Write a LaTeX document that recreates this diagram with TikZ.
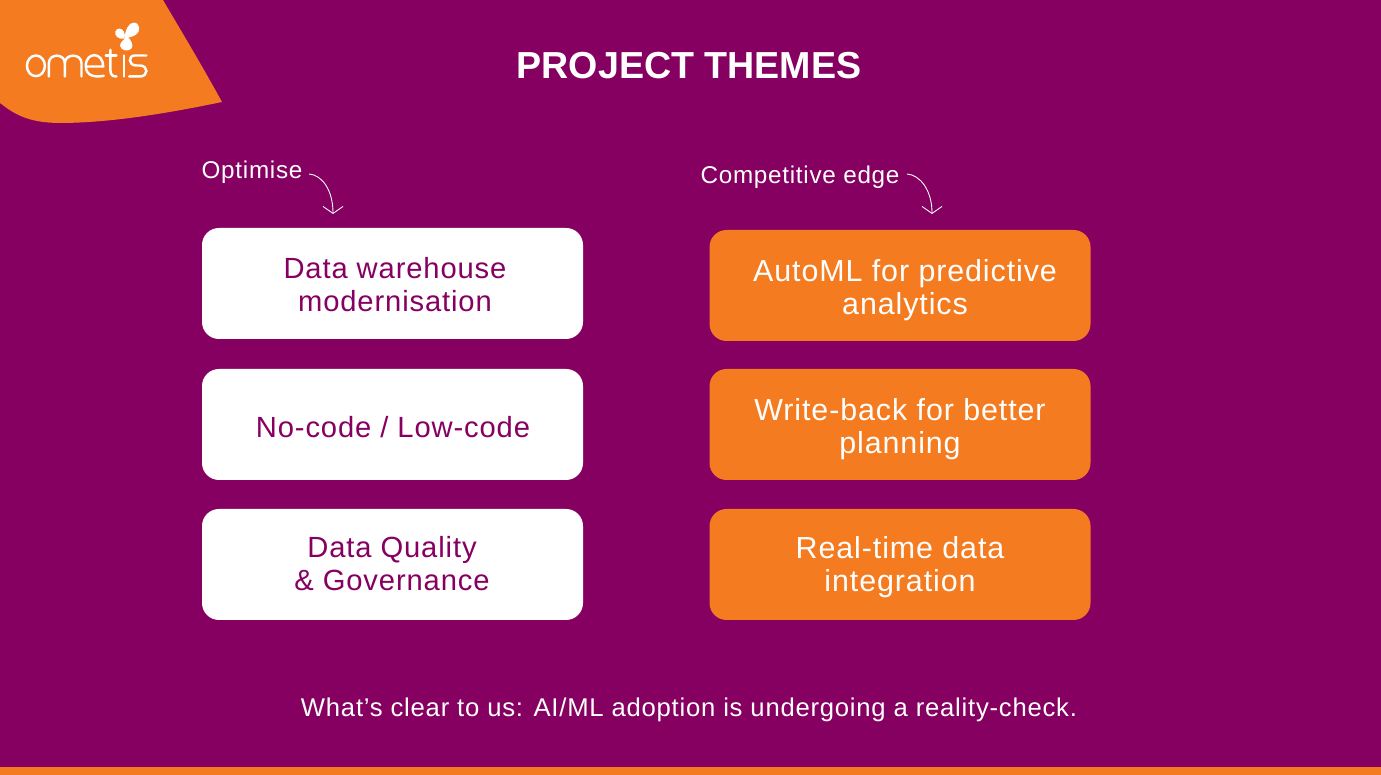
\documentclass[tikz,border=0pt]{standalone}
\usepackage{fontspec}
\setmainfont[LetterSpace=3]{Liberation Sans}
\usetikzlibrary{arrows.meta}
\definecolor{plum}{HTML}{860061}
\definecolor{tangerine}{HTML}{F47B20}
\tikzset{
    themebox/.style={rounded corners=0.17cm,minimum width=3.81cm,minimum height=1.11cm},
    optbox/.style={themebox,fill=white},
    edgebox/.style={themebox,fill=tangerine},
    optlabel/.style={text=plum,align=center,font=\fontsize{8.3pt}{9.4pt}\selectfont},
    edgelabel/.style={text=white,align=center,font=\fontsize{8.65pt}{9.5pt}\selectfont},
    grouplabel/.style={text=white,font=\fontsize{6.9pt}{8pt}\selectfont,inner sep=0pt},
    curlyarrow/.style={white,line width=0.25pt,-{Straight Barb[length=0.07cm,width=0.2cm]}},
    logostroke/.style={white,line width=0.7pt,line cap=round}
}
\begin{document}
\begin{tikzpicture}
    \useasboundingbox (0,0) rectangle (13.81,7.75);
    % Background and footer band
    \fill[plum] (0,0) rectangle (13.81,7.75);
    \fill[tangerine] (0,0) rectangle (13.81,0.08);

    % Corner shape
    \fill[tangerine] (0,7.75) -- (1.63,7.75) .. controls (1.80,7.46) and (2.00,7.13) .. (2.22,6.73)
        .. controls (1.60,6.60) and (1.05,6.52) .. (0.60,6.52) .. controls (0.30,6.52) and (0.15,6.60) .. (0,6.72) -- cycle;

    % Logo lettering and petals
    \begin{scope}[shift={(0,7.75)},x=0.003333cm,y=-0.003333cm]
        \draw[logostroke] (108,198) ellipse (27 and 31);
        \draw[logostroke] (147,230) -- (147,190) .. controls (147,160) and (195,160) .. (195,190) -- (195,230);
        \draw[logostroke] (195,190) .. controls (195,160) and (245,160) .. (245,190) -- (245,230);
        \draw[logostroke] (258,200) -- (310,200) .. controls (310,155) and (258,155) .. (258,198) .. controls (258,232) and (290,232) .. (312,228);
        \draw[logostroke] (332,150) -- (332,212) .. controls (332,226) and (340,230) .. (350,230);
        \draw[logostroke] (318,167) -- (350,167);
        \draw[logostroke] (372,167) -- (372,230);
        \draw[logostroke] (440,167) -- (405,167) .. controls (385,167) and (385,197) .. (410,197) -- (420,197) .. controls (447,197) and (447,230) .. (420,230) -- (388,230);
        \fill[white] (374,116) .. controls (376,92) and (386,68) .. (402,68) .. controls (422,68) and (424,96) .. (408,105) .. controls (398,111) and (386,113) .. (374,116);
        \fill[white] (374,116) .. controls (356,120) and (342,106) .. (347,94) .. controls (352,82) and (368,84) .. (373,96) .. controls (376,103) and (376,110) .. (374,116);
        \fill[white] (382,108) .. controls (394,120) and (402,136) .. (396,145) .. controls (388,156) and (364,154) .. (361,138) .. controls (360,126) and (374,120) .. (382,108);
    \end{scope}

    % Title
    \node (title) at (6.89,7.09) {\color{white}\fontsize{10.7pt}{12pt}\selectfont\addfontfeature{LetterSpace=0}\bfseries PROJECT THEMES};

    % Left column
    \node[grouplabel] (optimise) at (2.52,6.03) {Optimise};
    \coordinate (optimiseend) at (3.33,5.61);
    \node[optbox] (warehouse) at (3.925,4.915) {};
    \node[optbox] (nocode) at (3.925,3.505) {};
    \node[optbox] (quality) at (3.925,2.105) {};
    \node[optlabel] (warehousetext) at (3.95,4.90) {Data warehouse\\modernisation};
    \node[optlabel] (nocodetext) at (3.93,3.48) {No-code / Low-code};
    \node[optlabel] (qualitytext) at (3.92,2.115) {Data Quality\\\& Governance};
    \draw[curlyarrow] (3.09,6.01) .. controls (3.22,6.00) and (3.33,5.85) .. (optimiseend);

    % Right column
    \node[grouplabel] (competitive) at (8.00,5.98) {Competitive edge};
    \coordinate (competitiveend) at (9.32,5.61);
    \node[edgebox] (automl) at (9.00,4.895) {};
    \node[edgebox] (writeback) at (9.00,3.505) {};
    \node[edgebox] (realtime) at (9.00,2.105) {};
    \node[edgelabel] (automltext) at (9.05,4.85) {AutoML for predictive\\analytics};
    \node[edgelabel] (writebacktext) at (9.00,3.46) {Write-back for better\\planning};
    \node[edgelabel] (realtimetext) at (9.00,2.08) {Real-time data\\integration};
    \draw[curlyarrow] (9.07,6.01) .. controls (9.20,6.00) and (9.32,5.85) .. (competitiveend);

    % Closing line
    \node[text=white,font=\fontsize{7.3pt}{9pt}\selectfont] (closing) at (6.89,0.65) {What’s clear to us: AI/ML adoption is undergoing a reality-check.};
\end{tikzpicture}
\end{document}
